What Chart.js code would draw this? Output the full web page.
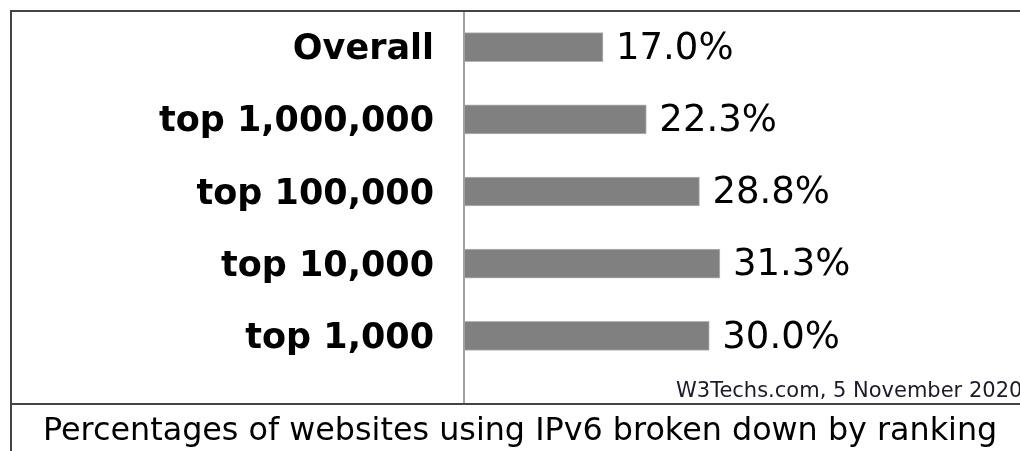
<!DOCTYPE html>
<html>
<head>
<meta charset="utf-8">
<title>IPv6 by ranking</title>
<script src="https://cdn.jsdelivr.net/npm/chart.js@4/dist/chart.umd.min.js"></script>
<style>
  html, body { margin: 0; padding: 0; background: #fff; }
  #wrap { width: 1020px; height: 451px; }
</style>
</head>
<body>
<div id="wrap"><canvas id="ipv6-chart" width="1020" height="451"></canvas></div>
<script>
// data
var rankings = ['Overall', 'top 1,000,000', 'top 100,000', 'top 10,000', 'top 1,000']
var ipv6Share = [17.0, 22.3, 28.8, 31.3, 30.0]
var caption = 'Percentages of websites using IPv6 broken down by ranking'
var credit = 'W3Techs.com, 5 November 2020'

var labelFont = '"DejaVu Sans", Verdana, sans-serif'

// box lines, axis line, credit + caption
var framePlugin = {
  id: 'frame',
  afterDraw(chart) {
    let ctx = chart.ctx
    let area = chart.chartArea
    ctx.save()

    ctx.strokeStyle = '#a0a0a0'
    ctx.lineWidth = 2
    ctx.beginPath()
    ctx.moveTo(area.left, 11)
    ctx.lineTo(area.left, 403)
    ctx.stroke()

    ctx.strokeStyle = '#444'
    ctx.lineWidth = 2
    ctx.beginPath()
    ctx.moveTo(10, 11); ctx.lineTo(1020, 11)
    ctx.moveTo(11, 10); ctx.lineTo(11, 451)
    ctx.moveTo(10, 404); ctx.lineTo(1020, 404)
    ctx.stroke()

    ctx.fillStyle = '#1a1a2a'
    ctx.font = '21px ' + labelFont
    ctx.textAlign = 'left'
    ctx.textBaseline = 'alphabetic'
    ctx.fillText(credit, 676, 397)

    ctx.fillStyle = '#000'
    ctx.font = '31.8px ' + labelFont
    ctx.fillText(caption, 43, 440)
    ctx.restore()
  }
}

// percentage text after each bar
var valueLabels = {
  id: 'valueLabels',
  afterDatasetsDraw(chart) {
    let ctx = chart.ctx
    let meta = chart.getDatasetMeta(0)
    ctx.save()
    ctx.fillStyle = '#000'
    ctx.font = '37px ' + labelFont
    ctx.textAlign = 'left'
    ctx.textBaseline = 'middle'
    meta.data.forEach((bar, i) => {
      ctx.fillText(ipv6Share[i].toFixed(1) + '%', bar.x + 13, bar.y + 2)
    })
    ctx.restore()
  }
}

var ipv6Chart = new Chart(document.getElementById('ipv6-chart'), {
  type: 'bar',
  data: {
    labels: rankings,
    datasets: [
      {
        data: ipv6Share,
        backgroundColor: '#808080',
        borderColor: '#b4b4b4',
        borderWidth: 1,
        borderSkipped: false,
        barThickness: 29
      }
    ]
  },
  options: {
    indexAxis: 'y',
    responsive: false,
    animation: false,
    layout: {
      padding: { top: 11, left: 10, right: 0, bottom: 79 }
    },
    plugins: {
      legend: { display: false },
      tooltip: { enabled: false }
    },
    scales: {
      x: {
        display: false,
        min: 0,
        max: 68
      },
      y: {
        afterFit: function(scale) {
          scale.width = 454
          scale.paddingTop = 0
          scale.paddingBottom = 0
        },
        grid: { display: false, drawTicks: false },
        border: { display: false },
        ticks: {
          padding: 30,
          labelOffset: 3,
          color: '#000',
          font: { family: labelFont, size: 35, weight: 'bold' }
        }
      }
    }
  },
  plugins: [framePlugin, valueLabels]
});
</script>
</body>
</html>
